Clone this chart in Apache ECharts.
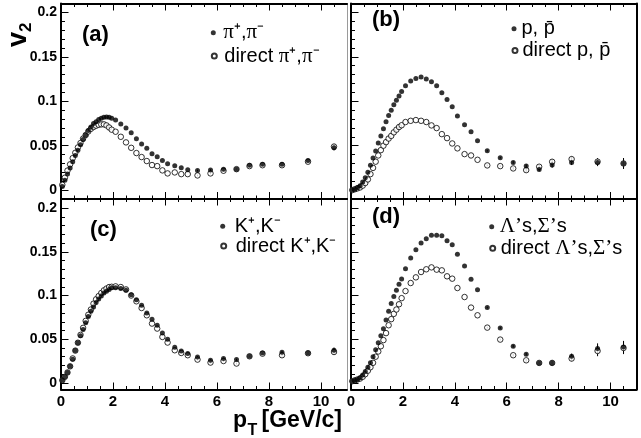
<!DOCTYPE html>
<html><head><meta charset="utf-8">
<script src="https://cdn.jsdelivr.net/npm/echarts@6/dist/echarts.min.js"></script>
<style>html,body{margin:0;padding:0;background:#fff}#c{width:641px;height:438px}</style>
</head><body><div id="c"></div>
<script>
// ---- data ----
const ptBins = [0.05,0.15,0.25,0.35,0.45,0.55,0.65,0.75,0.85,0.95,1.05,1.15,1.25,1.35,1.45,1.55,1.65,1.75,1.85,1.95,
  2.1,2.3,2.5,2.7,2.9,3.1,3.3,3.5,3.7,3.9,4.1,4.375,4.625,4.875,
  5.25,5.75,6.25,6.75,7.25,7.75,8.5,9.5,10.5];

const v2Pi = [0.004,0.011,0.018,0.025,0.032,0.039,0.045,0.051,0.057,0.062,0.067,0.071,0.075,0.077,0.0795,0.081,0.082,0.0823,0.082,0.081,
  0.079,0.0745,0.070,0.0646,0.0578,0.052,0.047,0.041,0.0375,0.0334,0.0296,0.0274,0.0251,0.0229,
  0.022,0.0225,0.0236,0.0236,0.028,0.029,0.029,0.0334,0.0477];
const v2PiDirect = [0.006,0.014,0.022,0.029,0.036,0.042,0.048,0.053,0.058,0.062,0.066,0.069,0.071,0.0725,0.0735,0.074,0.074,0.0728,0.0705,0.068,
  0.0657,0.060,0.0537,0.0476,0.0417,0.0372,0.0327,0.0282,0.027,0.0222,0.0188,0.0199,0.018,0.018,
  0.0165,0.0188,0.0218,0.0236,0.027,0.028,0.028,0.032,0.049];

const v2P = [0.000,0.001,0.003,0.005,0.009,0.014,0.020,0.028,0.036,0.044,0.053,0.061,0.069,0.077,0.084,0.090,0.096,0.101,0.106,0.111,
  0.1175,0.1227,0.1257,0.1272,0.125,0.122,0.1174,0.1096,0.102,0.0938,0.0833,0.0736,0.0657,0.0555,
  0.0443,0.0364,0.0312,0.027,0.0233,0.0282,0.0312,0.031,0.030];
const v2PDirect = [0.000,0.001,0.002,0.003,0.005,0.008,0.012,0.018,0.025,0.032,0.039,0.045,0.050,0.054,0.058,0.061,0.065,0.068,0.071,0.073,
  0.0766,0.078,0.0788,0.078,0.0766,0.0728,0.0698,0.063,0.0585,0.0525,0.047,0.0405,0.039,0.0341,
  0.0278,0.027,0.0244,0.0225,0.0263,0.0319,0.0349,0.032,0.030];

const v2K = [0.003,0.007,0.012,0.019,0.027,0.037,0.046,0.054,0.061,0.069,0.076,0.082,0.087,0.092,0.096,0.0995,0.103,0.105,0.107,0.109,
  0.109,0.108,0.106,0.101,0.0953,0.0888,0.080,0.0728,0.0659,0.0571,0.050,0.0408,0.0366,0.0336,
  0.0297,0.026,0.0279,0.0267,0.0305,0.0343,0.0351,0.0343,0.0374];
const v2KDirect = [0.003,0.007,0.012,0.019,0.028,0.037,0.046,0.055,0.063,0.071,0.078,0.084,0.0907,0.0957,0.0994,0.1029,0.1059,0.108,0.1097,0.110,
  0.1105,0.1097,0.107,0.100,0.0934,0.0857,0.0774,0.0679,0.0622,0.0526,0.0462,0.0374,0.0343,0.0317,
  0.0267,0.0233,0.0251,0.0222,0.0305,0.0335,0.0317,0.034,0.0354];

const v2Lam = [0.002,0.003,0.004,0.006,0.009,0.013,0.018,0.023,0.030,0.038,0.046,0.054,0.062,0.072,0.082,0.091,0.099,0.106,0.113,0.119,
  0.1307,0.1429,0.1525,0.160,0.165,0.1691,0.1691,0.1685,0.1627,0.1582,0.1471,0.1337,0.1185,0.1067,
  0.0862,0.0629,0.042,0.0328,0.0229,0.0229,0.0305,0.0393,0.0411];
const v2LamDirect = [0.002,0.003,0.004,0.005,0.007,0.010,0.014,0.018,0.023,0.030,0.036,0.042,0.049,0.057,0.066,0.073,0.079,0.084,0.090,0.097,
  0.1051,0.1143,0.1208,0.1269,0.130,0.1322,0.1296,0.1288,0.122,0.1193,0.1086,0.0983,0.0862,0.0774,
  0.0633,0.0496,0.0317,0.0259,0.0229,0.0229,0.0279,0.0366,0.040];

// statistical errors for the last 9 bins (5.25 ... 10.5 GeV/c)
const errStart = 34;
const errPi  = [0.001,0.001,0.001,0.001,0.001,0.001,0.001,0.0015,0.003];
const errP   = [0.001,0.001,0.0015,0.002,0.002,0.003,0.003,0.004,0.006];
const errK   = [0.001,0.001,0.001,0.001,0.001,0.001,0.0015,0.002,0.003];
const errLam = [0.001,0.001,0.0015,0.0015,0.002,0.003,0.003,0.006,0.007];

const xMajorTicks = [0,2,4,6,8,10];
const xMinorTicks = [0.5,1,1.5,2.5,3,3.5,4.5,5,5.5,6.5,7,7.5,8.5,9,9.5,10.5];
const yMajorTicks = [0,0.05,0.1,0.15,0.2];
const yMinorTicks = [0.01,0.02,0.03,0.04,0.06,0.07,0.08,0.09,0.11,0.12,0.13,0.14,0.16,0.17,0.18,0.19];

const panelTags = ['(a)','(b)','(c)','(d)'];
const namesAll = ['π⁺,π⁻','p, p̄','K⁺,K⁻','Λ’s,Σ’s'];
const namesDir = ['direct π⁺,π⁻','direct p, p̄','direct K⁺,K⁻','direct Λ’s,Σ’s'];

// ---- layout ----
const FONT = "'Liberation Sans', Arial, Helvetica, sans-serif";
const grids = [
  {left:61, top:3.5, width:286, height:195.5},
  {left:351, top:3.5, width:285.5, height:195.5},
  {left:61, top:198.5, width:286, height:191},
  {left:351, top:198.5, width:285.5, height:191}
];
const yRanges = [[-0.01,0.21],[-0.01,0.21],[-0.0075,0.211],[-0.0075,0.211]];
const allSets = [v2Pi, v2P, v2K, v2Lam];
const dirSets = [v2PiDirect, v2PDirect, v2KDirect, v2LamDirect];
const errSets = [errPi, errP, errK, errLam];
const legendPos = [
  {x:213.3, y1:32.7, y2:56, pad:2.5},
  {x:514, y1:29.3, y2:51, pad:0},
  {x:222.7, y1:226.7, y2:246.5, pad:4.5},
  {x:491.7, y1:226.7, y2:248.3, pad:0.5}
];
const tagPos = [[82,35],[372,19.5],[90,229.5],[372,216.5]];

const xAxis = [], yAxis = [], series = [], legend = [];
const black = '#000';
grids.forEach((g, i) => {
  const [ymin, ymax] = yRanges[i];
  const xb = {gridIndex:i, type:'value', min:0, max:11, splitLine:{show:false}};
  const tickMaj = {show:true, inside:true, length:7, lineStyle:{color:black, width:1}, customValues:xMajorTicks};
  const tickMin = {show:true, inside:true, length:3.5, lineStyle:{color:black, width:1}, customValues:xMinorTicks};
  xAxis.push(Object.assign({}, xb, {position:'bottom',
    axisLine:{show:true, onZero:false, lineStyle:{color:black, width:2}},
    axisTick:tickMaj,
    axisLabel:{show:i>=2, customValues:xMajorTicks, color:black, fontFamily:FONT, fontWeight:'bold', fontSize:15, margin:5}}));
  xAxis.push(Object.assign({}, xb, {position:'bottom', axisLine:{show:false, onZero:false}, axisTick:tickMin, axisLabel:{show:false}}));
  xAxis.push(Object.assign({}, xb, {position:'top', axisLine:{show:true, onZero:false, lineStyle:{color:black, width:2}}, axisTick:tickMaj, axisLabel:{show:false}}));
  xAxis.push(Object.assign({}, xb, {position:'top', axisLine:{show:false, onZero:false}, axisTick:tickMin, axisLabel:{show:false}}));

  const yb = {gridIndex:i, type:'value', min:ymin, max:ymax, splitLine:{show:false}};
  yAxis.push(Object.assign({}, yb, {position:'left',
    axisLine:{show:true, onZero:false, lineStyle:{color:black, width:2}},
    axisTick:{show:true, inside:true, length:7.5, lineStyle:{color:black, width:1}, customValues:yMajorTicks},
    axisLabel:{show:i%2===0, customValues:yMajorTicks, color:black, fontFamily:FONT, fontWeight:'bold', fontSize:14, margin:4,
      formatter: v => (Math.abs(v) < 1e-9 ? '0' : String(+v.toFixed(2)))}}));
  yAxis.push(Object.assign({}, yb, {position:'left', axisLine:{show:false, onZero:false},
    axisTick:{show:true, inside:true, length:4, lineStyle:{color:black, width:1}, customValues:yMinorTicks}, axisLabel:{show:false}}));
  yAxis.push(Object.assign({}, yb, {position:'right',
    axisLine:{show:true, onZero:false, lineStyle:{color: i%2===0 ? '#9a9a9a' : black, width: i%2===0 ? 1 : 2}},
    axisTick:{show:false}, axisLabel:{show:false}}));

  const xi = i*4, yi = i*3;
  const errData = [];
  errSets[i].forEach((e, k) => {
    const b = errStart + k;
    errData.push([ptBins[b], allSets[i][b], e]);
    errData.push([ptBins[b], dirSets[i][b], e]);
  });
  series.push({type:'custom', xAxisIndex:xi, yAxisIndex:yi, silent:true, z:1,
    data: errData, encode:{x:0, y:1},
    renderItem: (params, api) => {
      const x = api.value(0), y = api.value(1), e = api.value(2);
      const p1 = api.coord([x, y - e]), p2 = api.coord([x, y + e]);
      return {type:'line', shape:{x1:p1[0], y1:p1[1], x2:p2[0], y2:p2[1]}, style:{stroke:black, lineWidth:1}};
    }});
  series.push({type:'scatter', name:namesDir[i], xAxisIndex:xi, yAxisIndex:yi, z:2,
    symbol:'circle', symbolSize:5.5,
    itemStyle:{color:'#fff', borderColor:black, borderWidth:1},
    data: ptBins.map((x, k) => [x, dirSets[i][k]])});
  series.push({type:'scatter', name:namesAll[i], xAxisIndex:xi, yAxisIndex:yi, z:3,
    symbol:'circle', symbolSize:5, itemStyle:{color:black},
    data: ptBins.map((x, k) => [x, allSets[i][k]])});

  const lp = legendPos[i];
  const fmt = n => n.replace(/([πΛΣ’])/g, '{g|$1}');
  const mkLegend = (name, y) => ({
    data:[name], orient:'horizontal', left: lp.x - 2.5, top: y - 10.5, padding:0,
    itemWidth:5, itemHeight:5, icon:'circle', selectedMode:false,
    formatter: fmt,
    textStyle:{color:black, fontFamily:FONT, fontSize:20, padding:[0,0,0,lp.pad],
      rich:{g:{fontFamily:"'Liberation Serif', 'DejaVu Serif', serif", fontSize:21, color:black}}}
  });
  legend.push(mkLegend(namesAll[i], lp.y1));
  legend.push(mkLegend(namesDir[i], lp.y2));
});

const graphic = [];
panelTags.forEach((t, i) => {
  graphic.push({type:'text', x:tagPos[i][0], y:tagPos[i][1],
    style:{text:t, fill:black, font:"bold 22px " + FONT, textAlign:'left', textVerticalAlign:'middle'}});
});
// y title  v_2
graphic.push({type:'text', x:19, y:47, rotation:Math.PI/2,
  style:{text:'v', fill:black, font:"bold 27px " + FONT, textAlign:'left', textVerticalAlign:'middle'}});
graphic.push({type:'text', x:26, y:32, rotation:Math.PI/2,
  style:{text:'2', fill:black, font:"bold 17px " + FONT, textAlign:'left', textVerticalAlign:'middle'}});
// x title  p_T [GeV/c]
graphic.push({type:'text', x:233, y:420.3,
  style:{text:'p', fill:black, font:"bold 23px " + FONT, textAlign:'left', textVerticalAlign:'middle'}});
graphic.push({type:'text', x:247.5, y:431,
  style:{text:'T', fill:black, font:"bold 16px " + FONT, textAlign:'left', textVerticalAlign:'middle'}});
graphic.push({type:'text', x:261.5, y:420.3,
  style:{text:'[GeV/c]', fill:black, font:"bold 23px " + FONT, textAlign:'left', textVerticalAlign:'middle'}});

const chart = echarts.init(document.getElementById('c'), null, {renderer:'canvas', width:641, height:438});
chart.setOption({
  backgroundColor:'#fff', animation:false,
  grid: grids.map(g => Object.assign({containLabel:false}, g)),
  xAxis, yAxis, series, legend, graphic
});
</script></body></html>
